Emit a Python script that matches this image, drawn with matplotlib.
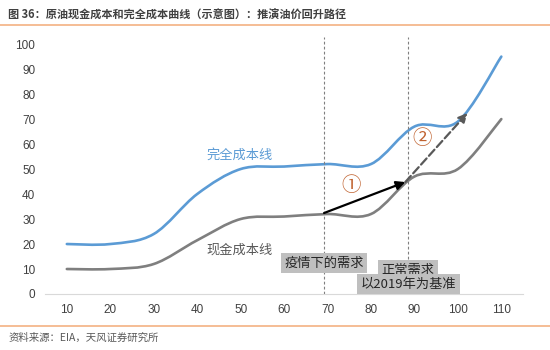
import numpy as np
import matplotlib
matplotlib.use('Agg')
import matplotlib.pyplot as plt
from matplotlib.path import Path
from matplotlib.patches import PathPatch

plt.rcParams['font.family'] = ['Noto Sans CJK SC', 'DejaVu Sans']

# chart data
x_vals = [10, 20, 30, 40, 50, 60, 70, 80, 90, 100, 110]
full_cost = [20, 20, 24, 40, 50, 51, 52, 52, 67, 69, 95]
cash_cost = [10, 10, 12, 21.5, 30, 31, 32, 32, 47, 50, 70]
y_ticks = [0, 10, 20, 30, 40, 50, 60, 70, 80, 90, 100]

demand_lines = [69.2, 88.6]          # 疫情下的需求 / 正常需求
arrow1 = [(69.2, 32.4), (87.9, 44.8)]
arrow2 = [(87.9, 44.8), (102.2, 72.4)]

title = '图 36：原油现金成本和完全成本曲线（示意图）：推演油价回升路径'
source = '资料来源：EIA，天风证券研究所'

BLUE = '#5B9BD5'
GRAY = '#7F7F7F'
ORANGE = '#F4B183'


def smooth_path(xs, ys):
    """Excel style smoothed line as cubic bezier segments."""
    pts = np.column_stack([xs, ys]).astype(float)
    n = len(pts)
    verts = [pts[0]]
    codes = [Path.MOVETO]
    for i in range(n - 1):
        p0 = pts[i - 1] if i > 0 else pts[i]
        p1 = pts[i]
        p2 = pts[i + 1]
        p3 = pts[i + 2] if i + 2 < n else pts[i + 1]
        c1 = p1 + (p2 - p0) / 6.0
        c2 = p2 - (p3 - p1) / 6.0
        verts += [c1, c2, p2]
        codes += [Path.CURVE4] * 3
    return Path(verts, codes)


fig = plt.figure(figsize=(5.5, 3.5), dpi=100)
ax = fig.add_axes([0.082, 0.16, 0.869, 0.714])

for ys, col in [(full_cost, BLUE), (cash_cost, GRAY)]:
    ax.add_patch(PathPatch(smooth_path(x_vals, ys), facecolor='none',
                           edgecolor=col, lw=1.9, capstyle='round'))

ax.set_xlim(5, 115)
ax.set_ylim(0, 100)
ax.set_xticks(x_vals)
ax.set_yticks(y_ticks)
ax.tick_params(length=0, labelsize=8.5, labelcolor='#404040', pad=7)
for lab in ax.get_xticklabels() + ax.get_yticklabels():
    lab.set_family(['Liberation Sans', 'DejaVu Sans'])
for s in ['top', 'right', 'left']:
    ax.spines[s].set_visible(False)
ax.spines['bottom'].set_color('#D9D9D9')

for xv in demand_lines:
    ax.plot([xv, xv], [0, 103], ls=(0, (2.5, 2)), color='#7F7F7F', lw=0.8,
            clip_on=False)

ax.annotate('', xy=arrow1[1], xytext=arrow1[0],
            arrowprops=dict(arrowstyle='-|>', color='black', lw=1.6,
                            mutation_scale=13, shrinkA=0, shrinkB=0))
ax.annotate('', xy=arrow2[1], xytext=arrow2[0],
            arrowprops=dict(arrowstyle='-|>', color='#595959', lw=1.6,
                            ls='--', mutation_scale=13, shrinkA=0, shrinkB=0))

ax.text(75.5, 43.6, '①', color='#C0622F', fontsize=14, ha='center',
        va='center', fontweight='light')
ax.text(91.8, 62.4, '②', color='#C0622F', fontsize=14, ha='center',
        va='center', fontweight='light')

ax.text(49.8, 55.6, '完全成本线', color=BLUE, fontsize=9.5, ha='center', va='center')
ax.text(49.8, 17.6, '现金成本线', color='#595959', fontsize=9.5, ha='center', va='center')

box = dict(facecolor='#BFBFBF', edgecolor='none', pad=2.5)
ax.text(69.2, 12.4, '疫情下的需求', color='#262626', fontsize=9.5, ha='center',
        va='center', fontweight='medium', bbox=box)
ax.text(88.6, 9.6, '正常需求', color='#262626', fontsize=9.5, ha='center',
        va='center', fontweight='medium', bbox=box)
ax.text(88.6, 4.0, '以2019年为基准', color='#262626', fontsize=9.5, ha='center',
        va='center', fontweight='medium', bbox=box)

fig.text(0.015, 1 - 15 / 350, title, fontsize=8, color='#404040',
         fontweight='bold', va='center')
fig.add_artist(plt.Line2D([0, 1], [1 - 25 / 350] * 2, color=ORANGE, lw=1.2))
fig.add_artist(plt.Line2D([0, 1], [1 - 326 / 350] * 2, color=ORANGE, lw=1.2))
fig.text(0.015, 1 - 338 / 350, source, fontsize=7.5, color='#595959', va='center')

fig.savefig('out.png', dpi=100)
